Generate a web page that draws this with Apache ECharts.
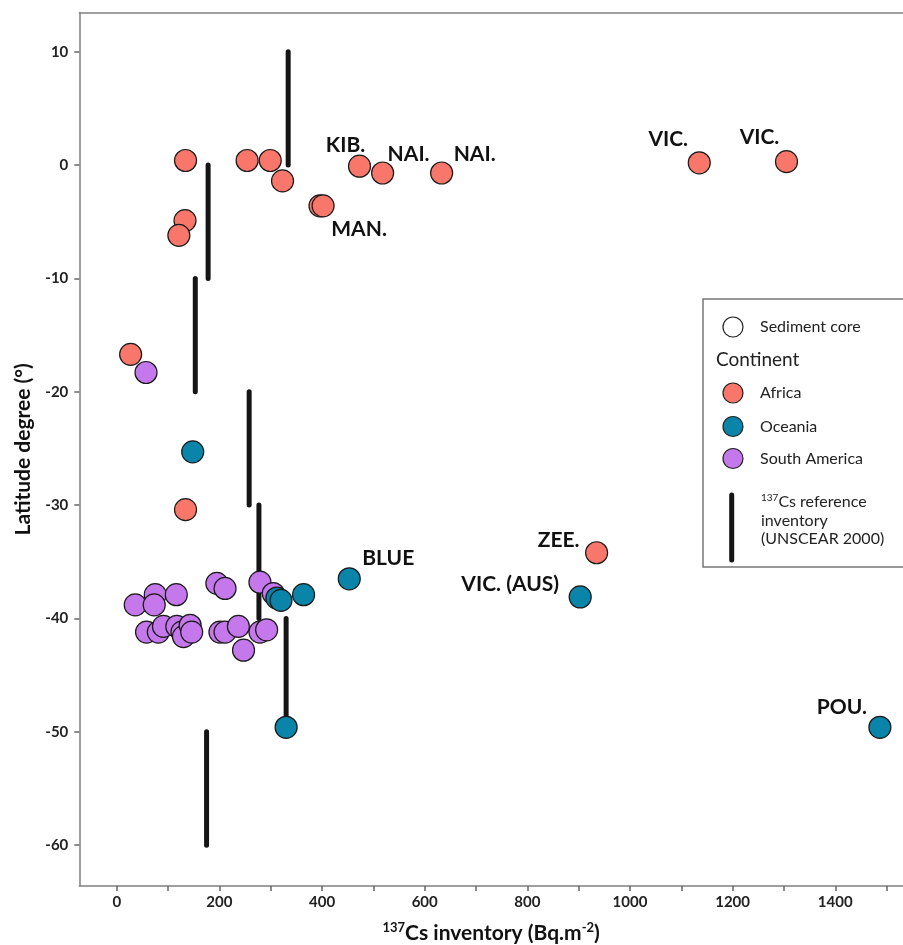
<!DOCTYPE html>
<html>
<head>
<meta charset="utf-8">
<script src="https://cdn.jsdelivr.net/npm/echarts@6/dist/echarts.min.js"></script>
<style>html,body{margin:0;padding:0;background:#fff;}#c{width:903px;height:945px;}</style>
</head>
<body>
<div id="c"></div>
<script>
// ---- data ----
const africaX = [134, 254, 299, 323, 133, 121, 396, 402, 473, 518, 633, 1135, 1305, 27, 134, 935];
const africaY = [0.4, 0.4, 0.4, -1.4, -4.9, -6.2, -3.6, -3.6, -0.1, -0.7, -0.7, 0.2, 0.3, -16.7, -30.4, -34.2];
const africaNames = ['', '', '', '', '', '', '', 'MAN.', 'KIB.', 'NAI.', 'NAI.', 'VIC.', 'VIC.', '', '', 'ZEE.'];

const oceaniaX = [148, 312, 320, 364, 453, 903, 330, 1487];
const oceaniaY = [-25.3, -38.2, -38.4, -37.9, -36.5, -38.1, -49.6, -49.6];
const oceaniaNames = ['', '', '', '', 'BLUE', 'VIC. (AUS)', '', 'POU.'];

const samericaX = [57, 36, 75, 73, 116, 195, 211, 279, 305, 58, 81, 91, 117, 127, 130, 143, 146, 201, 211, 237, 247, 279, 292];
const samericaY = [-18.3, -38.8, -37.9, -38.8, -37.9, -36.9, -37.35, -36.8, -37.8, -41.2, -41.2, -40.7, -40.7, -41.2, -41.6, -40.6, -41.2, -41.2, -41.2, -40.7, -42.8, -41.2, -41.0];

// UNSCEAR 2000 reference inventory per latitude band
const refX = [334, 178, 153, 258, 277, 330, 175];
const refTop = [10, 0, -10, -20, -30, -40, -50];
const refBottom = [0, -10, -20, -30, -40, -50, -60];

const xTickValues = [0, 100, 200, 300, 400, 500, 600, 700, 800, 900, 1000, 1100, 1200, 1300, 1400, 1500];
const xLabelValues = [0, 200, 400, 600, 800, 1000, 1200, 1400];
const yTickValues = [-60, -50, -40, -30, -20, -10, 0, 10];

// ---- styles ----
const FONT = 'Lato';
const colors = { africa: '#F9776A', oceania: '#0A84A8', samerica: '#C578EB' };
const labelOffsets = {
  'africa-7': [36, 23], 'africa-8': [-14, -21], 'africa-9': [26, -19], 'africa-10': [33, -19],
  'africa-11': [-31, -24], 'africa-12': [-27, -24], 'africa-15': [-38, -12],
  'oceania-4': [39, -21], 'oceania-5': [-70, -13], 'oceania-7': [-38, -20]
};

function build(key, xs, ys, names) {
  return xs.map((x, i) => {
    const item = { value: [x, ys[i]] };
    if (names[i]) {
      item.label = {
        show: true, formatter: names[i], position: 'inside',
        offset: labelOffsets[key + '-' + i] || [0, -20],
        color: '#111', fontFamily: FONT, fontWeight: 'bold', fontSize: 21
      };
    }
    return item;
  });
}

const chart = echarts.init(document.getElementById('c'), null, { renderer: 'canvas' });

const axisLineStyle = { color: '#808080', width: 1.5 };
const tickLabelStyle = { color: '#222', fontFamily: FONT, fontWeight: 'bold', fontSize: 15, formatter: v => String(v) };

function scatter(key, xs, ys, names, name) {
  return {
    type: 'scatter', name: name, z: 3,
    symbol: 'circle', symbolSize: 22,
    itemStyle: { color: colors[key], borderColor: '#1a1a1a', borderWidth: 1.2, opacity: 1 },
    label: { show: false },
    emphasis: { disabled: true },
    data: build(key, xs, ys, names)
  };
}

const option = {
  backgroundColor: '#fff',
  animation: false,
  grid: { left: 79.3, top: 12.7, right: 0, bottom: 59, outerBoundsMode: 'none', containLabel: false },
  xAxis: [{
    type: 'value', min: -73, max: 1532,
    axisLine: { show: true, onZero: false, lineStyle: axisLineStyle },
    axisTick: { show: true, customValues: xTickValues, length: 5, lineStyle: { color: '#666', width: 1.5 } },
    axisLabel: Object.assign({ customValues: xLabelValues, margin: 9 }, tickLabelStyle),
    splitLine: { show: false },
    name: '{sup|137}{b|Cs inventory (Bq.m}{sup|-2}{b|)}',
    nameLocation: 'middle', nameGap: 35, nameMoveOverlap: false,
    nameTextStyle: {
      rich: {
        b: { fontFamily: FONT, fontWeight: 'bold', fontSize: 21, color: '#111', lineHeight: 24 },
        sup: { fontFamily: FONT, fontWeight: 'bold', fontSize: 13, color: '#111', verticalAlign: 'top', lineHeight: 14 }
      }
    }
  }, {
    type: 'value', position: 'top', min: -73, max: 1532,
    axisLine: { show: true, onZero: false, lineStyle: axisLineStyle },
    axisTick: { show: false }, axisLabel: { show: false }, splitLine: { show: false }
  }],
  yAxis: {
    type: 'value', min: -63.6, max: 13.44,
    axisLine: { show: true, onZero: false, lineStyle: axisLineStyle },
    axisTick: { show: true, customValues: yTickValues, length: 5, lineStyle: { color: '#666', width: 1.5 } },
    axisLabel: Object.assign({ customValues: yTickValues, margin: 11 }, tickLabelStyle),
    splitLine: { show: false },
    name: 'Latitude degree (°)', nameLocation: 'middle', nameGap: 46, nameMoveOverlap: false,
    nameTextStyle: { fontFamily: FONT, fontWeight: 'bold', fontSize: 21, color: '#111' }
  },
  series: [
    {
      type: 'custom', z: 2,
      renderItem: function (params, api) {
        const p1 = api.coord([api.value(0), api.value(1)]);
        const p2 = api.coord([api.value(0), api.value(2)]);
        return { type: 'line', shape: { x1: p1[0], y1: p1[1], x2: p2[0], y2: p2[1] },
          style: { stroke: '#151515', lineWidth: 5, lineCap: 'round' } };
      },
      encode: { x: 0, y: [1, 2] },
      data: refX.map((x, i) => [x, refTop[i], refBottom[i]])
    },
    scatter('samerica', samericaX, samericaY, samericaX.map(() => ''), 'South America'),
    scatter('oceania', oceaniaX, oceaniaY, oceaniaNames, 'Oceania'),
    scatter('africa', africaX, africaY, africaNames, 'Africa')
  ],
  graphic: [
    { type: 'rect', z: 10, shape: { x: 703, y: 299, width: 230, height: 268 },
      style: { fill: '#fff', stroke: '#777', lineWidth: 1.5 } },
    { type: 'circle', z: 11, shape: { cx: 733, cy: 327, r: 10 }, style: { fill: '#fff', stroke: '#222', lineWidth: 1.2 } },
    { type: 'text', z: 11, x: 760, y: 327, style: { text: 'Sediment core', fill: '#222', font: '16px Lato', verticalAlign: 'middle' } },
    { type: 'text', z: 11, x: 716, y: 360, style: { text: 'Continent', fill: '#222', font: '19px Lato', verticalAlign: 'middle' } },
    { type: 'circle', z: 11, shape: { cx: 733, cy: 393, r: 10 }, style: { fill: colors.africa, stroke: '#222', lineWidth: 1.2 } },
    { type: 'text', z: 11, x: 760, y: 393, style: { text: 'Africa', fill: '#222', font: '16px Lato', verticalAlign: 'middle' } },
    { type: 'circle', z: 11, shape: { cx: 733, cy: 426.5, r: 10 }, style: { fill: colors.oceania, stroke: '#222', lineWidth: 1.2 } },
    { type: 'text', z: 11, x: 760, y: 426.5, style: { text: 'Oceania', fill: '#222', font: '16px Lato', verticalAlign: 'middle' } },
    { type: 'circle', z: 11, shape: { cx: 733, cy: 458.5, r: 10 }, style: { fill: colors.samerica, stroke: '#222', lineWidth: 1.2 } },
    { type: 'text', z: 11, x: 760, y: 458.5, style: { text: 'South America', fill: '#222', font: '16px Lato', verticalAlign: 'middle' } },
    { type: 'line', z: 11, shape: { x1: 731.7, y1: 495, x2: 731.7, y2: 560 }, style: { stroke: '#151515', lineWidth: 5, lineCap: 'round' } },
    { type: 'text', z: 11, x: 761, y: 493, style: {
        text: '{sup|137}{t|Cs reference}\n{t|inventory}\n{t|(UNSCEAR 2000)}',
        rich: {
          t: { fontFamily: FONT, fontSize: 16, fill: '#222', lineHeight: 18.5 },
          sup: { fontFamily: FONT, fontSize: 10, fill: '#222', verticalAlign: 'top', lineHeight: 12 }
        } } }
  ]
};
chart.setOption(option);
</script>
</body>
</html>
